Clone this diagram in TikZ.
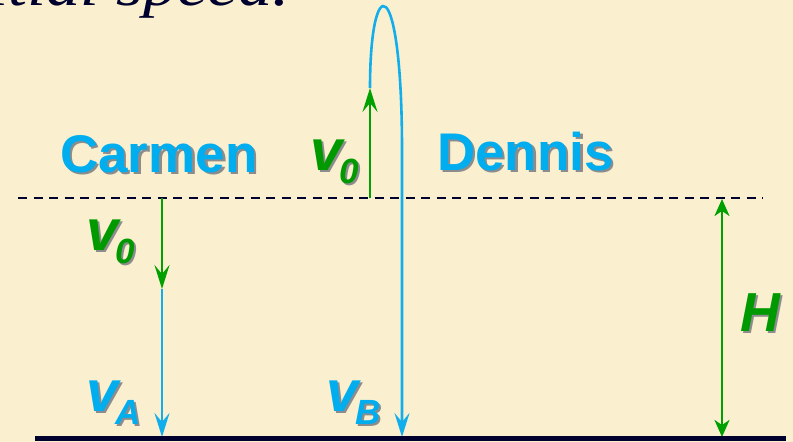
\documentclass[tikz,border=0pt]{standalone}
\usepackage{fontspec}
\setmainfont{Liberation Sans}
\newfontfamily\seriffam{Liberation Serif}
\usetikzlibrary{arrows.meta}
\definecolor{bgcream}{HTML}{FAF0D0}
\definecolor{navy}{HTML}{00002E}
\definecolor{skyb}{HTML}{00AEEF}
\definecolor{skyline}{HTML}{12AEEB}
\definecolor{grtext}{HTML}{009A00}
\definecolor{grline}{HTML}{00A000}
\newcommand\shtext[1]{\rlap{\hspace{2.5pt}\raisebox{-2.5pt}{\color{black!45}#1}}#1}
\newcommand\vsub[2]{\fontsize{58}{58}\selectfont #1\kern-3pt\raisebox{-13pt}{\fontsize{35}{35}\selectfont #2}}
\tikzset{
  personlabel/.style={font=\fontsize{53}{53}\selectfont\bfseries, text=skyb, inner sep=0pt, anchor=base west},
  vlab/.style={font=\bfseries\itshape, inner sep=0pt, anchor=base west},
  gline/.style={draw=grline, line width=2.6pt},
  bline/.style={draw=skyline, line width=2.6pt},
  bigtip/.tip={Stealth[length=24pt,width=15pt,inset=9pt]},
  smalltip/.tip={Stealth[length=17pt,width=15pt,inset=5pt]}
}
\begin{document}
\begin{tikzpicture}[x=1pt,y=-1pt]
\useasboundingbox (0,0) rectangle (793,442);
\clip (0,0) rectangle (793,442);
\fill[bgcream] (0,0) rectangle (793,442);
% title fragment
\node[inner sep=0pt, anchor=base west, text=navy, font=\seriffam\itshape\fontsize{60}{60}\selectfont] (title) at (-64,5) {\scalebox{1.14}[1]{initial speed.}};
% coordinates
\coordinate (dl) at (18,198);
\coordinate (dr) at (763,198);
\coordinate (gl) at (35,438.5);
\coordinate (gr) at (786,438.5);
\coordinate (c0) at (162,198);
\coordinate (c1) at (162,289);
\coordinate (c2) at (162,437);
\coordinate (d0) at (370,198);
\coordinate (d1) at (370,88);
\coordinate (d2) at (402,150);
\coordinate (d3) at (402,437);
\coordinate (h0) at (722,199);
\coordinate (h1) at (722,437);
% dashed reference level
\draw[navy, line width=2.4pt, dash pattern=on 9pt off 6.5pt] (dl) -- (dr);
% Carmen
\draw[bline, -{bigtip}] (c1) -- (c2);
\draw[gline, -{bigtip}] (c0) -- (c1);
% Dennis
\draw[bline, -{bigtip}] (d1) .. controls (370,-30) and (402,-30) .. (d2) -- (d3);
\draw[gline, -{bigtip}] (d0) -- (d1);
% H
\draw[gline, {smalltip}-{smalltip}] (h0) -- (h1);
% ground
\draw[navy, line width=5pt] (gl) -- (gr);
% labels
\node[personlabel] (carmen) at (60,172) {\shtext{Carmen}};
\node[personlabel] (dennis) at (437,170) {\shtext{Dennis}};
\node[vlab, text=grtext] (v0d) at (310,170) {\shtext{\vsub{v}{0}}};
\node[vlab, text=grtext] (v0c) at (86,250) {\shtext{\vsub{v}{0}}};
\node[vlab, text=skyb] (va) at (86,411) {\shtext{\vsub{v}{A}}};
\node[vlab, text=skyb] (vb) at (326,411) {\shtext{\vsub{v}{B}}};
\node[vlab, text=grtext, font=\bfseries\itshape\fontsize{55}{55}\selectfont] (H) at (740,331) {\shtext{H}};
\end{tikzpicture}
\end{document}
